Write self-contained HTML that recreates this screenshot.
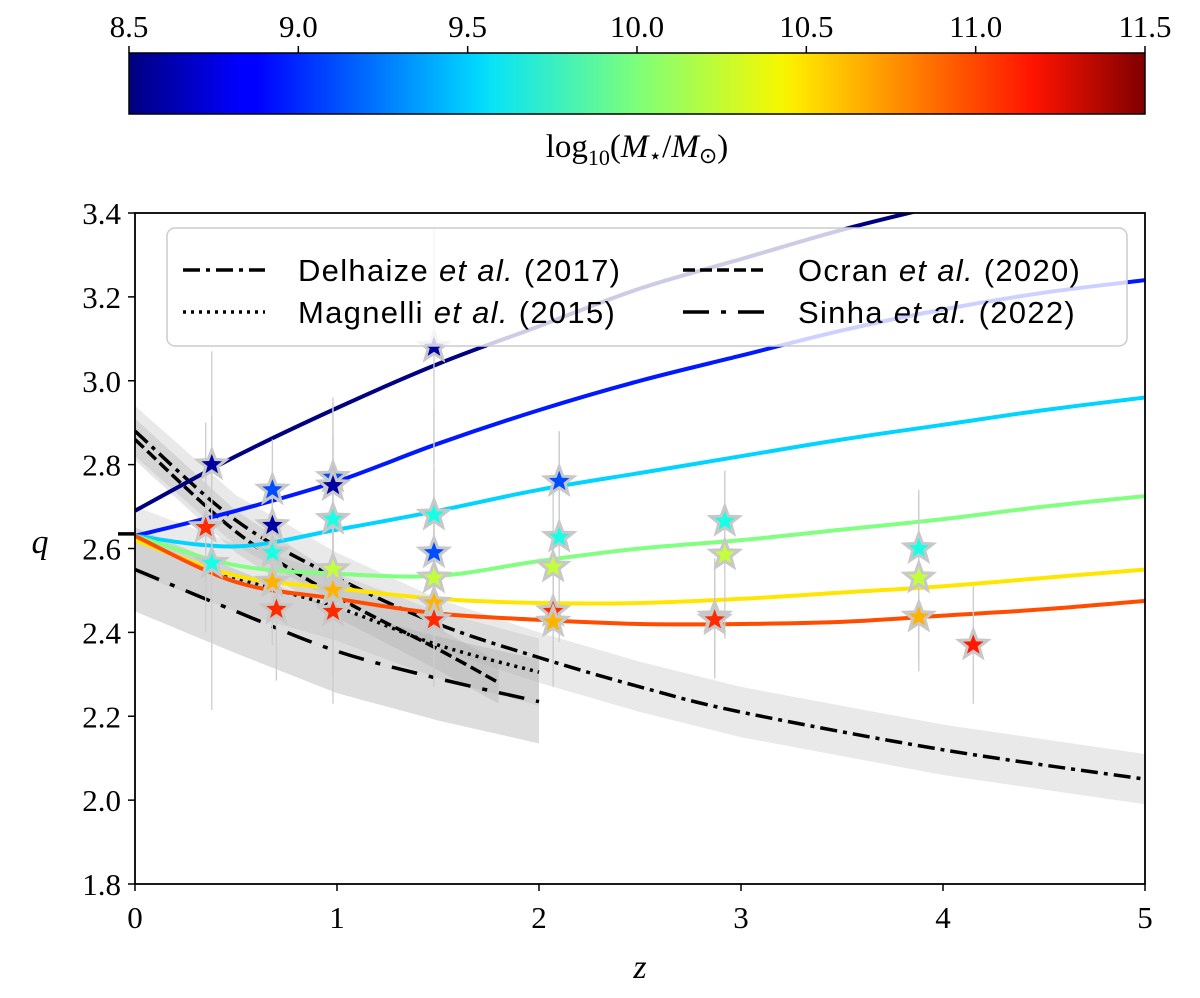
<!DOCTYPE html>
<html><head><meta charset="utf-8">
<style>
body{margin:0;background:#fff;}
svg text{font-family:"Liberation Serif",serif;}
.sans{font-family:"Liberation Sans",sans-serif;letter-spacing:1.3px;}
</style></head>
<body>
<svg id="chart" width="1200" height="993" viewBox="0 0 1200 993" xmlns="http://www.w3.org/2000/svg">
<defs>
<linearGradient id="jetgrad" x1="0" x2="1" y1="0" y2="0">
<stop offset="0" stop-color="#00007f"/><stop offset="0.11" stop-color="#0000ff"/>
<stop offset="0.125" stop-color="#0000ff"/><stop offset="0.34" stop-color="#00d4ff"/>
<stop offset="0.36" stop-color="#0ae4f4"/><stop offset="0.5" stop-color="#7dff7a"/>
<stop offset="0.64" stop-color="#f4f802"/><stop offset="0.66" stop-color="#ffe600"/>
<stop offset="0.89" stop-color="#ff1300"/><stop offset="1" stop-color="#7f0000"/>
</linearGradient>
<clipPath id="plotclip"><rect x="135" y="213" width="1010" height="671"/></clipPath>
</defs>
<g id="cbar">
<rect x="129" y="53" width="1016" height="61" fill="url(#jetgrad)" stroke="#000" stroke-width="1.5"/>
<text x="637" y="157" font-size="33" text-anchor="middle">log<tspan font-size="22" dy="8">10</tspan><tspan dy="-8">(</tspan><tspan font-style="italic">M</tspan><tspan font-size="22" dy="6">⋆</tspan><tspan dy="-6">/</tspan><tspan font-style="italic">M</tspan><tspan font-size="22" dy="6">⊙</tspan><tspan dy="-6">)</tspan></text>
</g>
<g id="bands" clip-path="url(#plotclip)"></g>
<g id="refl" clip-path="url(#plotclip)"></g>
<g id="curves" clip-path="url(#plotclip)"></g>
<g id="stars" clip-path="url(#plotclip)"></g>
<g id="legend">
<rect x="167" y="228" width="960" height="118" rx="8" fill="#fff" fill-opacity="0.8" stroke="#ccc" stroke-width="1.5"/>
<line x1="183" y1="270" x2="265" y2="270" stroke="#000" stroke-width="3.5" stroke-dasharray="17,6,4,6"/>
<text class="sans" x="298" y="281" font-size="31">Delhaize <tspan font-style="italic">et al.</tspan> (2017)</text>
<line x1="183" y1="312" x2="265" y2="312" stroke="#000" stroke-width="3.5" stroke-dasharray="3,5"/>
<text class="sans" x="298" y="323" font-size="31">Magnelli <tspan font-style="italic">et al.</tspan> (2015)</text>
<line x1="683" y1="270" x2="765" y2="270" stroke="#000" stroke-width="3.5" stroke-dasharray="12,5"/>
<text class="sans" x="798" y="281" font-size="31">Ocran <tspan font-style="italic">et al.</tspan> (2020)</text>
<line x1="683" y1="312" x2="765" y2="312" stroke="#000" stroke-width="3.5" stroke-dasharray="26,12,5,12"/>
<text class="sans" x="798" y="323" font-size="31">Sinha <tspan font-style="italic">et al.</tspan> (2022)</text>
</g>
<rect x="135" y="213" width="1010" height="671" fill="none" stroke="#000" stroke-width="1.8"/>
<g id="axes"></g>
<text x="640" y="978" font-size="34" font-style="italic" text-anchor="middle">z</text>
<text x="40" y="553" font-size="34" font-style="italic" text-anchor="middle">q</text>
</svg>
<script>
const cbTicks=[8.5,9.0,9.5,10.0,10.5,11.0,11.5];
const xTicks=[0,1,2,3,4,5];
const yTicks=[1.8,2.0,2.2,2.4,2.6,2.8,3.0,3.2,3.4];
// model curves (mass, sampled z and q)
const curveMass=[8.5,8.95,9.5,10.0,10.45,10.9];
const curveZ=[0,0.5,1,1.5,2,2.5,3,3.5,4,4.5,5];
const curveQ=[
[2.69,2.82,2.935,3.04,3.13,3.22,3.29,3.36,3.42,3.48,3.53],
[2.63,2.69,2.76,2.85,2.93,3.00,3.06,3.12,3.17,3.21,3.24],
[2.63,2.605,2.645,2.69,2.74,2.78,2.82,2.86,2.895,2.93,2.96],
[2.63,2.56,2.54,2.535,2.57,2.60,2.62,2.645,2.67,2.70,2.725],
[2.62,2.535,2.505,2.48,2.47,2.47,2.48,2.495,2.51,2.53,2.55],
[2.63,2.52,2.48,2.445,2.43,2.42,2.42,2.425,2.44,2.455,2.475]];
// literature relations
const delZ=[0,0.5,1,1.5,2,2.5,3,4,5];
const delQ=[2.88,2.667,2.53,2.42,2.34,2.27,2.21,2.12,2.05];
const ocrZ=[0,0.5,1,1.5,1.8];
const ocrQ=[2.86,2.64,2.485,2.36,2.28];
const magZ=[0,0.5,1,1.5,2];
const magQ=[2.62,2.53,2.46,2.37,2.305];
const sinZ=[0,0.5,1,1.5,2];
const sinQ=[2.55,2.45,2.355,2.29,2.235];
// data points
const starZ=[0.38,0.35,0.38,0.68,0.68,0.68,0.68,0.70,0.98,0.98,0.98,0.98,0.98,0.98,1.48,1.48,1.48,1.48,1.48,1.48,2.1,2.1,2.07,2.07,2.07,2.92,2.92,2.87,2.87,3.88,3.88,3.88,4.15];
const starQ=[2.80,2.65,2.565,2.74,2.655,2.59,2.52,2.455,2.77,2.75,2.67,2.55,2.50,2.45,3.08,2.68,2.59,2.53,2.47,2.43,2.76,2.627,2.556,2.45,2.425,2.665,2.585,2.437,2.43,2.60,2.53,2.437,2.37];
const starM=[8.6,11.0,9.7,9.1,8.6,9.7,10.6,11.0,9.1,8.6,9.7,10.2,10.6,11.0,8.6,9.7,9.1,10.2,10.6,11.0,9.1,9.7,10.2,11.0,10.6,9.7,10.2,10.6,11.0,9.7,10.2,10.6,11.05];
const starErr=[0.27,0.25,0.35,0.12,0.12,0.2,0.15,0.17,0.19,0.2,0.2,0.25,0.2,0.22,0.28,0.25,0.2,0.18,0.2,0.16,0.12,0.25,0.2,0.18,0.15,0.12,0.2,0.14,0.14,0.14,0.2,0.13,0.14];

const NS='http://www.w3.org/2000/svg';
const X=z=>135+202*z, Y=q=>213+(3.4-q)*419.375, CB=m=>129+(m-8.5)/3*1016;
function jet(m){const t=(m-8.5)/3;const c=v=>Math.round(255*Math.max(0,Math.min(1,v)));
return `rgb(${c(1.5-Math.abs(4*t-3))},${c(1.5-Math.abs(4*t-2))},${c(1.5-Math.abs(4*t-1))})`;}
function mk(tag,attrs,parent){const e=document.createElementNS(NS,tag);for(const k in attrs)e.setAttribute(k,attrs[k]);parent.appendChild(e);return e;}
function path(zs,qs){
 const P=zs.map((z,i)=>[X(z),Y(qs[i])]);
 let d='M'+P[0][0].toFixed(1)+','+P[0][1].toFixed(1);
 for(let i=0;i<P.length-1;i++){
  const p0=P[i-1]||P[i],p1=P[i],p2=P[i+1],p3=P[i+2]||P[i+1];
  const c1=[p1[0]+(p2[0]-p0[0])/6,p1[1]+(p2[1]-p0[1])/6];
  const c2=[p2[0]-(p3[0]-p1[0])/6,p2[1]-(p3[1]-p1[1])/6];
  d+=` C${c1[0].toFixed(1)},${c1[1].toFixed(1)} ${c2[0].toFixed(1)},${c2[1].toFixed(1)} ${p2[0].toFixed(1)},${p2[1].toFixed(1)}`;
 }
 return d;
}
const svg=document.getElementById('chart');
const cbar=document.getElementById('cbar');
cbTicks.forEach(m=>{
 const l=mk('line',{x1:CB(m),x2:CB(m),y1:53,y2:46,stroke:'#000','stroke-width':1.5},cbar);
 
 
 const t=mk('text',{x:CB(m),y:37,'font-size':31,'text-anchor':'middle'},cbar);t.textContent=m.toFixed(1);
 
 
});
const axes=document.getElementById('axes');
xTicks.forEach(z=>{
 mk('line',{x1:X(z),x2:X(z),y1:884,y2:891,stroke:'#000','stroke-width':1.5},axes);
 const t=mk('text',{x:X(z),y:928,'font-size':31,'text-anchor':'middle'},axes);t.textContent=z;
 
 
});
yTicks.forEach(q=>{
 mk('line',{x1:128,x2:135,y1:Y(q),y2:Y(q),stroke:'#000','stroke-width':1.5},axes);
 const t=mk('text',{x:121,y:Y(q)+11,'font-size':31,'text-anchor':'end'},axes);t.textContent=q.toFixed(1);
 
 
});
const bands=document.getElementById('bands');
function band(zs,qs,lo,hi,fill,op,name){
 const up=zs.map((z,i)=>X(z)+','+Y(qs[i]+hi)).join(' ');
 const dn=zs.slice().reverse().map((z,i)=>X(z)+','+Y(qs[zs.length-1-i]-lo)).join(' ');
 const p=mk('polygon',{points:up+' '+dn,fill:fill,'fill-opacity':op},bands);
 
 
}
band(delZ,delQ,0.06,0.06,'#bbb',0.32,'delhaize-band');
band(sinZ,sinQ,0.1,0.1,'#aaa',0.4,'sinha-band');
band(magZ,magQ,0.08,0.08,'#bbb',0.3,'magnelli-band');
band(ocrZ,ocrQ,0.05,0.05,'#aaa',0.3,'ocran-band');
const refl=document.getElementById('refl');
function ref(zs,qs,dash,name){const p=mk('path',{d:path(zs,qs),fill:'none',stroke:'#000','stroke-width':3.5,'stroke-dasharray':dash},refl);
 
 }
ref(delZ,delQ,'17,6,4,6','delhaize-line');
ref(ocrZ,ocrQ,'12,5','ocran-line');
ref(magZ,magQ,'3,5','magnelli-line');
ref(sinZ,sinQ,'26,12,5,12','sinha-line');
const stub=mk('line',{x1:118,x2:135,y1:Y(2.635),y2:Y(2.635),stroke:'#000','stroke-width':3.5},svg);


const cg=document.getElementById('curves');
curveQ.forEach((qs,i)=>{
 const p=mk('path',{d:path(curveZ,qs),fill:'none',stroke:jet(curveMass[i]),'stroke-width':4},cg);
 
 
});
const sg=document.getElementById('stars');
function starPts(cx,cy,R){const r=R*0.42;let s=[];for(let k=0;k<10;k++){const a=-Math.PI/2+k*Math.PI/5;const rr=k%2?r:R;s.push((cx+rr*Math.cos(a)).toFixed(1)+','+(cy+rr*Math.sin(a)).toFixed(1));}return s.join(' ');}
starZ.forEach((z,i)=>{
 const e=mk('line',{x1:X(z),x2:X(z),y1:Y(starQ[i]+starErr[i]),y2:Y(starQ[i]-starErr[i]),stroke:'#ccc','stroke-width':1.3},sg);
 
 
});
starZ.forEach((z,i)=>{
 const s=mk('polygon',{points:starPts(X(z),Y(starQ[i]),15),fill:jet(starM[i]),stroke:'#c8c8c8','stroke-width':3,'stroke-linejoin':'miter'},sg);
 
 
});
</script>
</body></html>
